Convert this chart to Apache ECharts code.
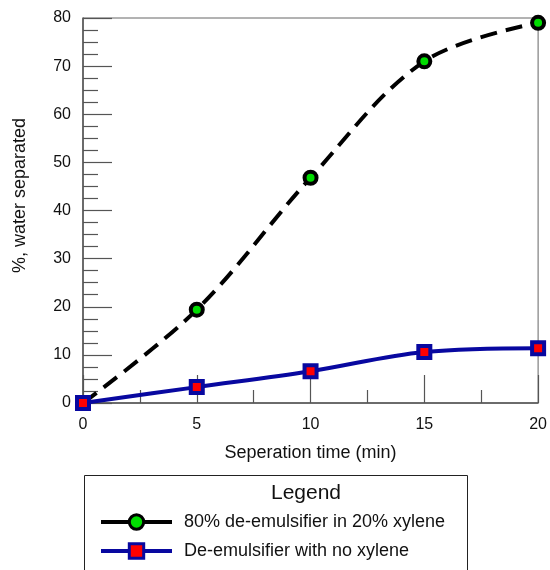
<!DOCTYPE html>
<html><head><meta charset="utf-8">
<script src="https://cdn.jsdelivr.net/npm/echarts@6/dist/echarts.min.js"></script>
<style>html,body{margin:0;padding:0;background:#fff}#c{width:550px;height:570px}</style>
</head><body><div id="c"></div>
<script>
const xValues = [0, 5, 10, 15, 20];
const seriesXylene = [0, 19.4, 46.8, 71.0, 79.0];
const seriesNoXylene = [0, 3.3, 6.6, 10.6, 11.4];
const seriesNames = ['80% de-emulsifier in 20% xylene', 'De-emulsifier with no xylene'];
const yTicks = [0, 10, 20, 30, 40, 50, 60, 70, 80];
const xTicks = [0, 5, 10, 15, 20];

const chart = echarts.init(document.getElementById('c'));
const font = 'Liberation Sans, Arial, Helvetica, sans-serif';
chart.setOption({
  animation: false,
  grid: {left: 83, right: 8, top: 18, bottom: 167, show: true, borderColor: '#666', borderWidth: 1, backgroundColor: 'transparent'},
  xAxis: {
    type: 'value', min: xTicks[0], max: xTicks[xTicks.length-1], interval: 5,
    name: 'Seperation time (min)', nameLocation: 'middle', nameGap: 41,
    nameTextStyle: {fontFamily: font, fontSize: 18, color: '#111'},
    axisLine: {lineStyle: {color: '#555', width: 1.5}},
    axisTick: {inside: true, length: 28, lineStyle: {color: '#555', width: 1.2}},
    minorTick: {show: true, splitNumber: 2, length: 13, lineStyle: {color: '#555', width: 1.2}},
    axisLabel: {fontFamily: font, fontSize: 16, color: '#111', margin: 14},
    splitLine: {show: false}
  },
  yAxis: {
    type: 'value', min: yTicks[0], max: yTicks[yTicks.length-1], interval: 10,
    name: '%, water separated', nameLocation: 'middle', nameGap: 54,
    nameTextStyle: {fontFamily: font, fontSize: 18, color: '#111', padding: [0, 0, 0, 30]},
    axisLine: {lineStyle: {color: '#555', width: 1.5}},
    axisTick: {inside: true, length: 29, lineStyle: {color: '#555', width: 1.2}},
    minorTick: {show: true, splitNumber: 4, length: 15, lineStyle: {color: '#555', width: 1.2}},
    axisLabel: {fontFamily: font, fontSize: 16, color: '#111', margin: 12},
    splitLine: {show: false}
  },
  legend: {
    orient: 'vertical', left: 99, top: 513, padding: 0, itemWidth: 71, itemHeight: 18, itemGap: 11,
    textStyle: {fontFamily: font, fontSize: 18, lineHeight: 18, color: '#111', padding: [0,0,0,7]},
    data: [
      {name: seriesNames[0], lineStyle: {type: 'solid', width: 4}, itemStyle: {borderWidth: 3}},
      {name: seriesNames[1], lineStyle: {width: 4}, itemStyle: {borderWidth: 3}}
    ]
  },
  graphic: [
    {type: 'rect', shape: {x: 84.5, y: 475.5, width: 383, height: 110}, style: {fill: 'none', stroke: '#222', lineWidth: 1}, silent: true},
    {type: 'text', x: 306, y: 493, style: {text: 'Legend', font: '21px ' + font, fill: '#111', textAlign: 'center', textVerticalAlign: 'middle'}}
  ],
  series: [
    {
      name: seriesNames[0], type: 'line', smooth: 0.35, clip: false,
      data: xValues.map((x, i) => [x, seriesXylene[i]]),
      lineStyle: {color: '#000', width: 4, type: [17, 9]},
      symbol: 'circle', symbolSize: 12,
      itemStyle: {color: '#00dd00', borderColor: '#000', borderWidth: 4},
      z: 2
    },
    {
      name: seriesNames[1], type: 'line', smooth: 0.35, clip: false,
      data: xValues.map((x, i) => [x, seriesNoXylene[i]]),
      lineStyle: {color: '#0808a0', width: 4},
      symbol: 'rect', symbolSize: 12,
      itemStyle: {color: '#ff0000', borderColor: '#0808a0', borderWidth: 4},
      z: 3
    }
  ]
});
</script></body></html>
